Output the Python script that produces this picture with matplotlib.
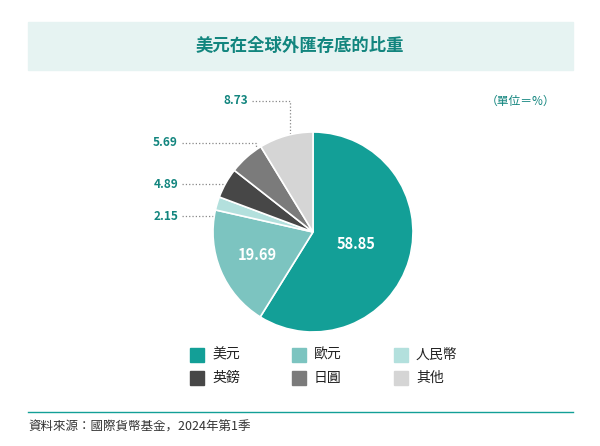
import matplotlib
matplotlib.use("Agg")
import matplotlib.pyplot as plt
import numpy as np
from matplotlib.patches import Rectangle

plt.rcParams["font.family"] = ["Noto Sans CJK TC", "Noto Sans CJK JP", "Noto Sans CJK SC", "DejaVu Sans"]

title = "美元在全球外匯存底的比重"
categories = ["美元", "歐元", "人民幣", "英鎊", "日圓", "其他"]
values = [58.85, 19.69, 2.15, 4.89, 5.69, 8.73]
colors = ["#139f97", "#7cc4c0", "#b3e0dd", "#474747", "#7b7b7b", "#d5d5d5"]
unit = "（單位＝%）"
source = "資料來源：國際貨幣基金，2024年第1季"

W, H = 600, 446
fig = plt.figure(figsize=(6, 4.46), dpi=100)
ov = fig.add_axes([0, 0, 1, 1])
ov.set_xlim(0, W); ov.set_ylim(H, 0); ov.axis("off")

ov.add_patch(Rectangle((28, 22), 545, 48, color="#e6f3f2", zorder=0))
ov.text(300, 46, title, ha="center", va="center", fontsize=12.5, color="#12857e", fontweight="bold")
ov.text(555, 101, unit, ha="right", va="center", fontsize=8.5, color="#12857e")

cx, cy, r = 313, 232, 100
ax = fig.add_axes([(cx - r) / W, (H - cy - r) / H, 2 * r / W, 2 * r / H])
wedges, _ = ax.pie(values, colors=colors, startangle=90, counterclock=False,
                   wedgeprops=dict(edgecolor="white", linewidth=1.2))
ax.set_aspect("auto")
ax.set_xlim(-1, 1); ax.set_ylim(-1, 1)

total = sum(values)
cum = 0
mids = []
for v in values:
    mids.append(90 - (cum + v / 2) / total * 360)
    cum += v

inside = {0: 0.45, 1: 0.6}
label_pos = {2: (178, 216), 3: (178, 184), 4: (178, 143), 5: (248, 101)}
for i, v in enumerate(values):
    a = np.deg2rad(mids[i])
    if i in inside:
        f = inside[i]
        ax.text(f * np.cos(a), f * np.sin(a), f"{v:.2f}", ha="center", va="center",
                color="white", fontsize=10.5, fontweight="bold")
    else:
        lx, ly = label_pos[i]
        ov.text(lx, ly, f"{v:.2f}", ha="right", va="center", fontsize=8.5,
                color="#12857e", fontweight="bold")
        axp = cx + 0.85 * r * np.cos(a)
        ayp = cy - 0.85 * r * np.sin(a)
        ov.plot([lx + 4, axp, axp], [ly, ly, ayp], ls=":", color="#888888", lw=0.9)

legend_pos = [(190, 355), (292, 355), (394, 355), (190, 378), (292, 378), (394, 378)]
for (x, y), c, name in zip(legend_pos, colors, categories):
    ov.add_patch(Rectangle((x, y - 7), 14, 14, color=c))
    ov.text(x + 22, y, name, ha="left", va="center", fontsize=10, color="#222222")

ov.plot([28, 573], [412, 412], color="#139f97", lw=1)
ov.text(28, 427, source, ha="left", va="center", fontsize=9, color="#333333")

fig.savefig("out.png", dpi=100)
